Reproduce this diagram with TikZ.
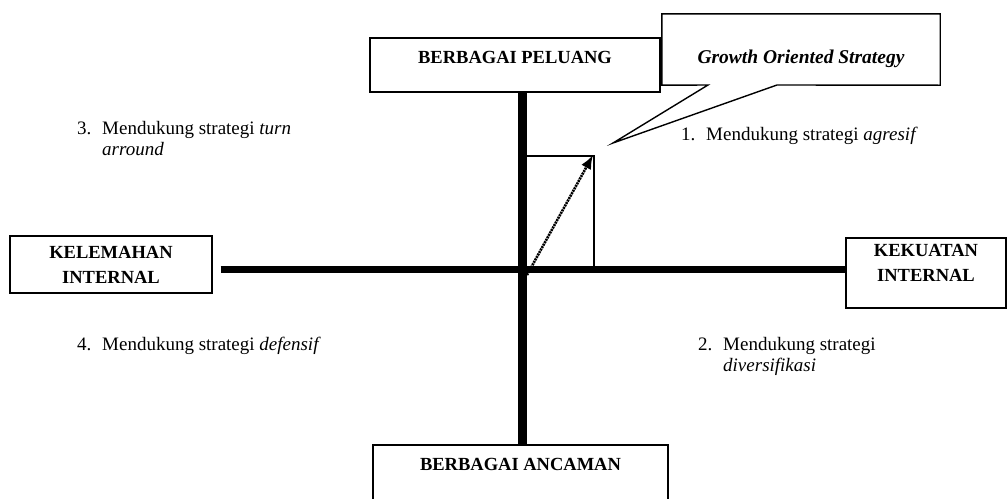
\documentclass[tikz,border=0pt]{standalone}
\usepackage{fontspec}
\setmainfont{Liberation Serif}
\usetikzlibrary{positioning,arrows.meta}

\tikzset{
  boxstyle/.style={draw=black, line width=1.4pt, fill=white, inner sep=0pt},
  headtext/.style={font=\fontsize{18.5}{25}\selectfont\bfseries, align=center, inner sep=0pt},
  notetext/.style={font=\fontsize{19}{21}\selectfont, align=left, inner sep=0pt, anchor=north west},
}
\newcommand{\notenum}[1]{\makebox[25pt][l]{#1}}

\begin{document}
\begin{tikzpicture}[x=1pt,y=-1pt]
		\clip (0,0) rectangle (1008,498); % picture size
		% the four boxes
		\node[boxstyle, minimum width=290pt, minimum height=54pt] (peluang) at (515,65) {};
		\node[headtext, below=14pt of peluang.north] (peluangtext) {BERBAGAI PELUANG};
		\node[boxstyle, minimum width=295pt, minimum height=70pt] (ancaman) at (520.5,480) {};
		\node[headtext, below=14pt of ancaman.north] (ancamantext) {BERBAGAI ANCAMAN};
		\node[boxstyle, minimum width=202pt, minimum height=57pt] (kelemahan) at (111,264.5) {};
		\node[headtext] (kelemahantext) at (kelemahan) {KELEMAHAN\\INTERNAL};
		\node[boxstyle, minimum width=160pt, minimum height=70pt] (kekuatan) at (926,273) {};
		\node[headtext, below=7pt of kekuatan.north] (kekuatantext) {KEKUATAN\\INTERNAL};
		% axes
		\coordinate (o) at (522,269);
		\draw[line width=9pt] (o |- peluang.south) -- (o |- ancaman.north);
		\draw[line width=7pt, shorten <=8pt] (kelemahan.east |- o) -- (kekuatan.west |- o);
		\coordinate (tip) at (594,156);
		\draw[line width=1.3pt] ([xshift=4pt]o |- tip) -- (tip) -- ([yshift=-3pt]tip |- o);
		\draw[line width=2.6pt, dash pattern=on 2pt off 0.8pt, -{Latex[length=14pt,width=11pt,sep=0pt]}] ([xshift=5pt,yshift=-6pt]o) -- ([xshift=-1pt,yshift=1pt]tip);
		% callout
		\node[minimum width=278pt, minimum height=71pt, inner sep=0pt] (growth) at (801,49.5) {};
		\coordinate (tailleft) at (708,85);
		\coordinate (tailright) at (777,85);
		\coordinate (tailtip) at (613,143);
		\draw[line width=1.4pt, fill=white, line join=miter] (growth.north west) -- (growth.north east) -- (growth.south east)
			-- (tailright) -- (tailtip) -- (tailleft) -- (growth.south west) -- cycle;
		\node[headtext, font=\fontsize{19.5}{25}\selectfont\bfseries\itshape, below=36pt of growth.north] (growthtext) {Growth Oriented Strategy};
		% notes in the quadrants
		\node[notetext] (note1) at (681,127) {\notenum{1.}Mendukung strategi \textit{agresif}};
		\node[notetext] (note2) at (698,337) {\notenum{2.}Mendukung strategi\\\hspace*{25pt}\textit{diversifikasi}};
		\node[notetext] (note3) at (77,121) {\notenum{3.}Mendukung strategi \textit{turn}\\\hspace*{25pt}\textit{arround}};
		\node[notetext] (note4) at (77,337) {\notenum{4.}Mendukung strategi \textit{defensif}};
	\end{tikzpicture}
\end{document}
